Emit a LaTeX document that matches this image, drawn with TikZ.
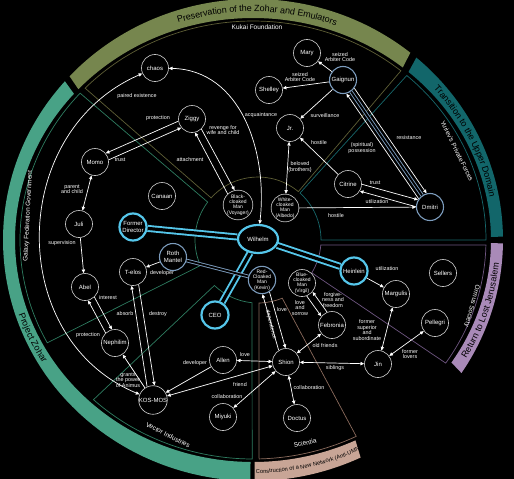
\documentclass[tikz,border=0pt]{standalone}
\usepackage{fontspec}
\setmainfont{Liberation Sans}
\usetikzlibrary{arrows.meta,shapes.geometric,decorations.text,calc}
\pgfdeclarelayer{back}
\pgfdeclarelayer{edges}
\pgfsetlayers{back,edges,main}
\definecolor{bandOlive}{HTML}{76864E}
\definecolor{bandTeal}{HTML}{12666A}
\definecolor{bandPurple}{HTML}{A98AB8}
\definecolor{bandTan}{HTML}{C8A596}
\definecolor{bandGreen}{HTML}{48A286}
\definecolor{kukC}{HTML}{5E5E35}
\definecolor{yurC}{HTML}{17676B}
\definecolor{ormC}{HTML}{6E5580}
\definecolor{sciC}{HTML}{8A6A5C}
\definecolor{vecC}{HTML}{2E7C60}
\definecolor{cyanC}{HTML}{55C6EA}
\definecolor{steelC}{HTML}{7C9CBD}
\definecolor{ndC}{HTML}{C8C8C8}
\tikzset{
  nd/.style={circle,draw=ndC,line width=0.65pt,fill=black,minimum size=27pt,inner sep=0pt,text=white,font=\fontsize{6}{6.5}\selectfont,align=center},
  ndsm/.style={font=\fontsize{5}{5.2}\selectfont},
  ndcyan/.style={draw=cyanC,line width=2.2pt},
  ndsteel/.style={draw=steelC,line width=1.1pt},
  tip/.tip={Triangle[width=3.3pt,length=3.7pt]},
  edge/.style={draw=white,line width=0.7pt,-tip},
  bedge/.style={draw=white,line width=0.7pt,tip-tip},
  ctube/.style={draw=cyanC,line width=1.9pt,double=black,double distance=3.2pt},
  stube/.style={draw=steelC,line width=0.9pt,double=black,double distance=1.8pt},
  lbl/.style={text=white,font=\fontsize{5.4}{5.4}\selectfont,align=center,inner sep=0.5pt},
  reglbl/.style={text=white,font=\fontsize{6.5}{6.5}\selectfont,inner sep=0pt},
  region/.style={line width=0.7pt},
  bandtext/.style={decorate,decoration={text along path,text align=center,raise=-3.1pt,text color=black,text={|\fontsize{9}{9}\selectfont|#1}}}
}
\begin{document}
\begin{tikzpicture}[x=1pt,y=1pt]
\useasboundingbox (0,0) rectangle (514,-479);
\begin{pgfonlayer}{back}
\fill[black] (0,0) rectangle (514,-479);
\coordinate (C) at (253,-240);
\coordinate (W) at (258,-240);
% ---------- outer bands ----------
\fill[bandOlive] ($(C)+(51:250pt and 241pt)$) arc[start angle=51,end angle=137.2,x radius=250pt,y radius=241pt] -- ($(C)+(137.2:238pt and 222pt)$) arc[start angle=137.2,end angle=51,x radius=238pt,y radius=222pt] -- cycle;
\fill[bandTeal] ($(C)+(0.8:250pt and 241pt)$) arc[start angle=0.8,end angle=49.2,x radius=250pt,y radius=241pt] -- ($(C)+(49.2:238pt and 222pt)$) arc[start angle=49.2,end angle=0.8,x radius=238pt,y radius=222pt] -- cycle;
\fill[bandPurple] ($(C)+(-33.5:250pt and 241pt)$) arc[start angle=-33.5,end angle=-0.8,x radius=250pt,y radius=241pt] -- ($(C)+(-0.8:238pt and 222pt)$) arc[start angle=-0.8,end angle=-33.5,x radius=238pt,y radius=222pt] -- cycle;
\fill[bandTan] ($(C)+(-89.6:250pt and 241pt)$) arc[start angle=-89.6,end angle=-64.5,x radius=250pt,y radius=241pt] -- ($(C)+(-64.5:238pt and 222pt)$) arc[start angle=-64.5,end angle=-89.6,x radius=238pt,y radius=222pt] -- cycle;
\fill[bandGreen] ($(C)+(138.8:250pt and 241pt)$) arc[start angle=138.8,end angle=269.4,x radius=250pt,y radius=241pt] -- ($(C)+(269.4:238pt and 222pt)$) arc[start angle=269.4,end angle=138.8,x radius=238pt,y radius=222pt] -- cycle;
% ---------- band texts ----------
\path[bandtext={Preservation of the Zohar and Emulators}] ($(C)+(134:244pt and 231.5pt)$) arc[start angle=134,end angle=44,x radius=244pt,y radius=231.5pt];
\path[bandtext={Transition to the Upper Domain}] ($(C)+(52:244pt and 231.5pt)$) arc[start angle=52,end angle=0,x radius=244pt,y radius=231.5pt];
\path[bandtext={Return to Lost Jerusalem}] ($(C)+(-38:244pt and 231.5pt)$) arc[start angle=-38,end angle=2,x radius=244pt,y radius=231.5pt];
\path[decorate,decoration={text along path,text align=center,raise=-2pt,text color=black,text={|\fontsize{5.7}{5.7}\selectfont|Construction of a New Network (Anti-UMN)}}] ($(C)+(-92:244pt and 231.5pt)$) arc[start angle=-92,end angle=-61,x radius=244pt,y radius=231.5pt];
\path[bandtext={Project Zohar}] ($(C)+(187:244pt and 231.5pt)$) arc[start angle=187,end angle=223,x radius=244pt,y radius=231.5pt];
% ---------- regions ----------
\draw[region,kukC] ($(W)+(50.2:63pt)$) -- ($(C)+(50.6:233pt and 219pt)$) arc[start angle=50.6,end angle=136.1,x radius=233pt,y radius=219pt] -- ($(W)+(138.1:63pt)$) arc[start angle=138.1,end angle=50.2,radius=63pt] -- cycle;
\draw[region,vecC] ($(W)+(143:63pt)$) -- ($(C)+(137.9:233pt and 219pt)$) arc[start angle=137.9,end angle=208,x radius=233pt,y radius=219pt] -- ($(W)+(203.9:63pt)$) arc[start angle=203.9,end angle=143,radius=63pt] -- cycle;
\draw[region,yurC] ($(W)+(48.2:63pt)$) -- ($(C)+(48.7:233pt and 219pt)$) arc[start angle=48.7,end angle=0,x radius=233pt,y radius=219pt] -- ($(W)+(0:63pt)$) arc[start angle=0,end angle=48.2,radius=63pt] -- cycle;
\draw[region,ormC] ($(W)+(-4.6:63pt)$) -- ($(C)+(-1.3:233pt and 219pt)$) arc[start angle=-1.3,end angle=-34.2,x radius=233pt,y radius=219pt] -- ($(W)+(-31.4:63pt)$) arc[start angle=-31.4,end angle=-4.6,radius=63pt] -- cycle;
\draw[region,sciC] ($(W)+(-89.1:63pt)$) -- ($(C)+(-88.5:233pt and 219pt)$) arc[start angle=-88.5,end angle=-63.7,x radius=233pt,y radius=219pt] -- ($(W)+(-67.4:63pt)$) arc[start angle=-67.4,end angle=-89.1,radius=63pt] -- cycle;
\draw[region,vecC] ($(W)+(-95.5:63pt)$) -- ($(C)+(-90.2:233pt and 219pt)$) arc[start angle=-90.2,end angle=-133.2,x radius=233pt,y radius=219pt] -- ($(W)+(-133.8:63pt)$) arc[start angle=-133.8,end angle=-95.5,radius=63pt] -- cycle;
\end{pgfonlayer}
% ---------- region labels ----------
\node[reglbl] (r-kukai) at (257,-27.5) {Kukai Foundation};
\node[reglbl,rotate=-64] (r-yuriev) at (457,-151) {Yuriev's Private Forces};
\node[reglbl,rotate=-105] (r-ormus) at (472,-306) {Ormus Society};
\node[reglbl,rotate=13] (r-sci) at (305,-443) {Scientia};
\node[reglbl,rotate=-27] (r-vec) at (168,-435) {Vector Industries};
\node[reglbl,rotate=87] (r-gal) at (28,-216) {Galaxy Federation Government};
% ---------- nodes ----------
\node[nd] (chaos) at (155,-68) {chaos};
\node[nd] (ziggy) at (192,-119) {Ziggy};
\node[nd] (momo) at (95,-162) {Momo};
\node[nd] (canaan) at (162,-196) {Canaan};
\node[nd] (juli) at (79,-224) {Juli};
\node[nd,ndcyan] (fdir) at (133,-227) {Former\\Director};
\node[nd,ndsteel] (roth) at (173,-257) {Roth\\Mantel};
\node[nd] (telos) at (133,-272) {T-elos};
\node[nd] (abel) at (85,-287) {Abel};
\node[nd] (neph) at (115,-343) {Nephilim};
\node[nd] (kosmos) at (153,-400) {KOS-MOS};
\node[nd] (allen) at (223,-360) {Allen};
\node[nd] (miyuki) at (223,-417) {Miyuki};
\node[nd,ndsm] (voyager) at (238,-205) {Black-\\cloaked\\Man\\(Voyager)};
\node[nd,ndsm] (albedo) at (285,-208) {White-\\cloaked\\Man\\(Albedo)};
\node[nd,ndcyan,ellipse,minimum width=40pt,minimum height=28pt] (wilhelm) at (258,-239) {Wilhelm};
\node[nd,ndsm,ndsteel] (kevin) at (262,-280) {Red-\\Cloaked\\Man\\(Kevin)};
\node[nd,ndsm] (virgil) at (302,-283) {Blue-\\cloaked\\Man\\(Virgil)};
\node[nd,ndcyan] (ceo) at (215,-315) {CEO};
\node[nd,ndcyan] (heinlein) at (354,-271) {Heinlein};
\node[nd] (febronia) at (332,-325) {Febronia};
\node[nd] (shion) at (286,-362) {Shion};
\node[nd] (doctus) at (297,-418) {Doctus};
\node[nd] (jin) at (378,-364) {Jin};
\node[nd] (margulis) at (396,-294) {Margulis};
\node[nd] (sellers) at (443,-273) {Sellers};
\node[nd] (pellegri) at (435,-323) {Pellegri};
\node[nd] (mary) at (307,-53) {Mary};
\node[nd] (shelley) at (269,-90) {Shelley};
\node[nd,ndsteel] (gaignun) at (343,-80) {Gaignun};
\node[nd] (jr) at (290,-128) {Jr.};
\node[nd] (citrine) at (348,-184) {Citrine};
\node[nd,ndsteel] (dmitri) at (430,-207) {Dmitri};
% ---------- connectors ----------
\begin{pgfonlayer}{edges}
\draw[ctube] (wilhelm) -- (fdir);
\draw[ctube] (wilhelm) -- (ceo);
\draw[ctube] (wilhelm) -- (heinlein);
\draw[stube] (roth) -- (kevin);
\draw[stube] (gaignun) -- (dmitri);
\draw[bedge] (chaos) .. controls (8,-132) and (5,-338) .. (kosmos);
\draw[bedge] (chaos) .. controls (240,-70) and (268,-150) .. (wilhelm);
\draw[edge] (ziggy.189) -- (momo.39);
\draw[edge] (momo.9) -- (ziggy.219);
\draw[edge] (voyager.133) -- (ziggy.-77);
\draw[edge] (ziggy.-47) -- (voyager.103);
\draw[bedge] (momo) -- (juli);
\draw[edge] (juli) -- (abel);
\draw[edge] (neph.133) -- (abel.-77);
\draw[edge] (abel.-47) -- (neph.103);
\draw[edge] (roth) -- (telos);
\draw[edge] (kosmos.114) -- (telos.-96);
\draw[edge] (telos.-66) -- (kosmos.84);
\draw[edge] (kosmos) -- (neph);
\draw[edge] (allen) -- (kosmos);
\draw[bedge] (shion) -- (kosmos);
\draw[bedge] (allen) -- (shion);
\draw[bedge] (shion) -- (miyuki);
\draw[bedge] (shion) -- (doctus);
\draw[bedge] (shion) -- (jin);
\draw[bedge] (shion) -- (febronia);
\draw[edge] (virgil.-70) -- (febronia.141);
\draw[edge] (febronia.111) -- (virgil.-40);
\draw[edge] (shion.122) -- (kevin.-88);
\draw[edge] (kevin.-58) -- (shion.92);
\draw[edge] (heinlein) -- (margulis);
\draw[bedge] (margulis) -- (jin);
\draw[bedge] (pellegri) -- (jin);
\draw[edge] (gaignun) -- (mary);
\draw[edge] (gaignun) -- (shelley);
\draw[edge] (gaignun) -- (jr);
\draw[edge] (citrine) -- (jr);
\draw[bedge] (jr) -- (albedo);
\draw[edge] (dmitri.144) -- (gaignun.-76);
\draw[edge] (gaignun.-36) -- (dmitri.104);
\draw[edge] (citrine.-1) -- (dmitri.149);
\draw[edge] (dmitri.179) -- (citrine.-31);
\draw[edge] (albedo) -- (dmitri);
\end{pgfonlayer}
% ---------- connector labels ----------
\node[lbl] (l1) at (137,-96) {paired existence};
\node[lbl] (l2) at (261,-115) {acquaintance};
\node[lbl] (l3) at (158,-118) {protection};
\node[lbl] (l4) at (120,-160) {trust};
\node[lbl] (l5) at (223,-130) {revenge for\\wife and child};
\node[lbl] (l6) at (190,-160) {attachment};
\node[lbl] (l7) at (72,-189) {parent\\and child};
\node[lbl] (l8) at (62,-243) {supervision};
\node[lbl] (l9) at (108,-298) {interest};
\node[lbl] (l10) at (88,-335) {protection};
\node[lbl] (l11) at (162,-273) {developer};
\node[lbl] (l12) at (125,-314) {absorb};
\node[lbl] (l13) at (158,-314) {destroy};
\node[lbl] (l14) at (128,-380) {grants\\the power\\of Animus};
\node[lbl] (l15) at (195,-363) {developer};
\node[lbl] (l16) at (245,-355) {love};
\node[lbl] (l17) at (240,-385) {friend};
\node[lbl] (l18) at (227,-397) {collaboration};
\node[lbl] (l19) at (309,-388) {collaboration};
\node[lbl] (l20) at (335,-368) {siblings};
\node[lbl] (l21) at (325,-346) {old friends};
\node[lbl] (l22) at (300,-308) {love\\and\\sorrow};
\node[lbl] (l23) at (333,-300) {forgive-\\ness and\\freedom};
\node[lbl,rotate=-76] (l24) at (271,-325) {dependence};
\node[lbl] (l25) at (282,-310) {love};
\node[lbl] (l26) at (387,-269) {utilization};
\node[lbl] (l27) at (367,-330) {former\\superior\\and\\subordinate};
\node[lbl] (l28) at (410,-354) {former\\lovers};
\node[lbl] (l29) at (340,-57) {seized\\Arbiter Code};
\node[lbl] (l30) at (300,-77) {seized\\Arbiter Code};
\node[lbl] (l31) at (325,-116) {surveillance};
\node[lbl] (l32) at (319,-143) {hostile};
\node[lbl] (l33) at (300,-167) {beloved\\(brothers)};
\node[lbl] (l34) at (362,-148) {(spiritual)\\possession};
\node[lbl] (l35) at (409,-138) {resistance};
\node[lbl] (l36) at (375,-183) {trust};
\node[lbl] (l37) at (377,-202) {utilization};
\node[lbl] (l38) at (336,-216) {hostile};
\end{tikzpicture}
\end{document}
